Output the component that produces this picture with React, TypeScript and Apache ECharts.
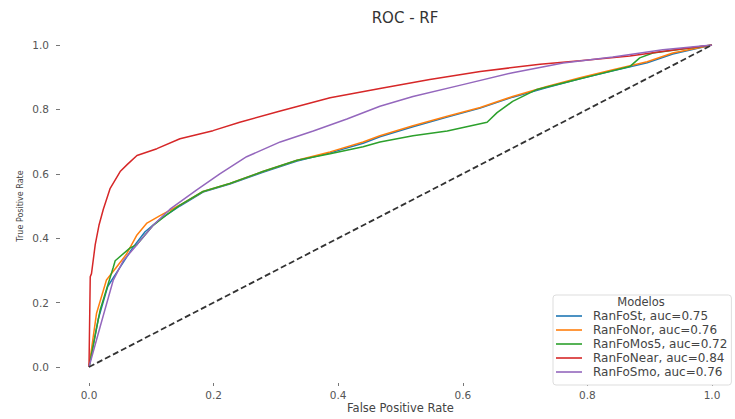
import React, { useEffect, useRef } from "react";
import * as echarts from "echarts";

const seriesNames = [
  "RanFoSt, auc=0.75",
  "RanFoNor, auc=0.76",
  "RanFoMos5, auc=0.72",
  "RanFoNear, auc=0.84",
  "RanFoSmo, auc=0.76",
];
const seriesColors = ["#1f77b4", "#ff7f0e", "#2ca02c", "#d62728", "#9467bd"];

const blueSt = [[0,0],[0.015,0.15],[0.03,0.25],[0.05,0.31],[0.07,0.37],[0.09,0.42],[0.115,0.46],[0.146,0.5],[0.183,0.543],[0.226,0.568],[0.279,0.605],[0.334,0.64],[0.387,0.665],[0.44,0.695],[0.467,0.715],[0.52,0.746],[0.575,0.776],[0.628,0.804],[0.68,0.838],[0.735,0.868],[0.788,0.895],[0.841,0.92],[0.896,0.945],[0.937,0.972],[1,1]];
const orangeNor = [[0,0],[0.012,0.166],[0.028,0.27],[0.044,0.31],[0.06,0.35],[0.077,0.41],[0.093,0.447],[0.114,0.47],[0.146,0.503],[0.183,0.545],[0.226,0.57],[0.279,0.607],[0.334,0.642],[0.387,0.668],[0.44,0.699],[0.467,0.718],[0.52,0.749],[0.575,0.779],[0.628,0.806],[0.68,0.84],[0.735,0.871],[0.788,0.898],[0.841,0.923],[0.896,0.948],[0.937,0.975],[1,1]];
const greenMos5 = [[0,0],[0.018,0.178],[0.039,0.31],[0.042,0.33],[0.066,0.37],[0.077,0.38],[0.103,0.44],[0.125,0.473],[0.146,0.503],[0.183,0.545],[0.226,0.57],[0.279,0.607],[0.334,0.642],[0.387,0.662],[0.44,0.684],[0.467,0.699],[0.52,0.718],[0.575,0.733],[0.639,0.76],[0.655,0.79],[0.68,0.825],[0.719,0.862],[0.761,0.882],[0.815,0.908],[0.868,0.933],[0.884,0.96],[0.905,0.975],[1,1]];
const redNear = [[0,0],[0.002,0.28],[0.004,0.29],[0.01,0.38],[0.016,0.44],[0.023,0.49],[0.034,0.555],[0.05,0.607],[0.062,0.63],[0.077,0.657],[0.109,0.678],[0.146,0.709],[0.199,0.734],[0.242,0.76],[0.307,0.795],[0.387,0.836],[0.467,0.865],[0.547,0.893],[0.628,0.918],[0.724,0.94],[0.788,0.951],[0.868,0.966],[0.92,0.98],[1,1]];
const purpleSmo = [[0,0],[0.018,0.126],[0.039,0.27],[0.055,0.33],[0.077,0.38],[0.103,0.44],[0.13,0.49],[0.173,0.55],[0.21,0.6],[0.253,0.653],[0.307,0.699],[0.36,0.733],[0.414,0.77],[0.467,0.81],[0.52,0.84],[0.6,0.877],[0.68,0.914],[0.761,0.944],[0.841,0.963],[0.921,0.985],[1,1]];
const diagonal = [[0,0],[1,1]];

const seriesData = [blueSt, orangeNor, greenMos5, redNear, purpleSmo];

const FONT = "DejaVu Sans";

export default function App() {
  const ref = useRef<HTMLDivElement>(null);
  useEffect(() => {
    if (!ref.current) return;
    const chart = echarts.init(ref.current, null, { renderer: "svg" });
    const lineSeries: any[] = seriesNames.map((name, i) => ({
      name,
      type: "line",
      data: seriesData[i],
      symbol: "none",
      lineStyle: { color: seriesColors[i], width: 1.5 },
      itemStyle: { color: seriesColors[i] },
      z: 2 + i,
    }));
    lineSeries.push({
      name: "diag",
      type: "line",
      data: diagonal,
      symbol: "none",
      lineStyle: { color: "#333", width: 1.8, type: [6, 3] },
      z: 10,
    });
    chart.setOption({
      animation: false,
      backgroundColor: "#fff",
      title: {
        text: "ROC - RF",
        left: 400,
        textAlign: "center",
        top: 5,
        textStyle: { fontFamily: FONT, fontSize: 15, fontWeight: "normal", color: "#333" },
      },
      grid: { left: 89, right: 23, top: 45, bottom: 50 },
      xAxis: {
        type: "value",
        min: 0,
        max: 1,
        interval: 0.2,
        offset: 16,
        name: "False Positive Rate",
        nameLocation: "middle",
        nameGap: 19,
        nameMoveOverlap: false,
        nameTextStyle: { fontFamily: FONT, fontSize: 11.5, color: "#444" },
        axisLine: { show: false, onZero: false },
        axisTick: { show: true, length: 3, lineStyle: { color: "#777" } },
        splitLine: { show: false },
        axisLabel: {
          margin: 6,
          fontFamily: FONT,
          fontSize: 10.5,
          color: "#555",
          formatter: (v: number) => v.toFixed(1),
        },
      },
      yAxis: {
        type: "value",
        min: 0,
        max: 1,
        interval: 0.2,
        offset: 29,
        name: "True Positive Rate",
        nameLocation: "middle",
        nameGap: 36,
        nameMoveOverlap: false,
        nameTextStyle: { fontFamily: FONT, fontSize: 8, color: "#444" },
        axisLine: { show: false, onZero: false },
        axisTick: { show: true, length: 4, lineStyle: { color: "#777" } },
        splitLine: { show: false },
        axisLabel: {
          margin: 11,
          fontFamily: FONT,
          fontSize: 10.5,
          color: "#555",
          formatter: (v: number) => v.toFixed(1),
        },
      },
      legend: {
        data: seriesNames,
        orient: "vertical",
        left: 553,
        top: 295,
        padding: [14, 4, 6, 3],
        icon: "rect",
        itemWidth: 26,
        itemHeight: 1.6,
        itemGap: 0,
        backgroundColor: "#fff",
        borderColor: "#ddd",
        borderWidth: 1,
        borderRadius: 3,
        textStyle: {
          fontFamily: FONT,
          fontSize: 12,
          lineHeight: 14,
          color: "#444",
          padding: [0, 0, 0, 6],
        },
      },
      graphic: [
        {
          type: "text",
          x: 641,
          y: 301.5,
          z: 100,
          style: {
            text: "Modelos",
            fontFamily: FONT,
            fontSize: 11.5,
            fill: "#444",
            align: "center",
            verticalAlign: "middle",
          },
        },
      ],
      series: lineSeries,
    });
    return () => chart.dispose();
  }, []);
  return (
    <div
      ref={ref}
      style={{ position: "fixed", left: 0, top: 0, width: 735, height: 419, background: "#fff" }}
    />
  );
}
